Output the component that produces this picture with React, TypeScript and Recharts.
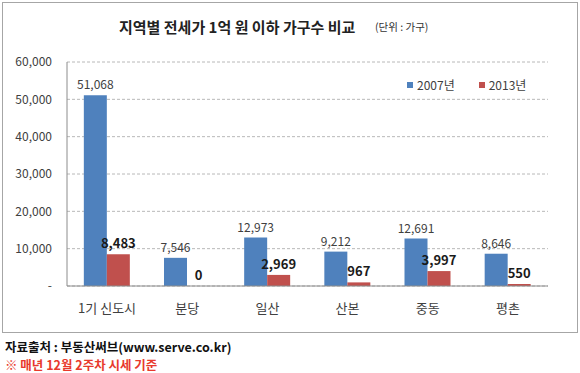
import { BarChart, Bar, XAxis, YAxis, CartesianGrid, LabelList } from 'recharts'

// 지역별 전세가 1억 원 이하 가구수 비교
const categories = ['1기 신도시', '분당', '일산', '산본', '중동', '평촌']
const values2007 = [51068, 7546, 12973, 9212, 12691, 8646]
const values2013 = [8483, 0, 2969, 967, 3997, 550]
const yTicks = [0, 10000, 20000, 30000, 40000, 50000, 60000]

const BLUE = '#4F81BD'
const RED = '#C0504D'
const FONT = '"Noto Sans CJK KR", "Noto Sans", sans-serif'

const data = categories.map((name, i) => ({
  name,
  y2007: values2007[i],
  y2013: values2013[i],
}))

const fmt = (v: any) => Number(v).toLocaleString('en-US')

export default function App() {
  return (
    <div style={{ position: 'absolute', left: 0, top: 0, width: 580, height: 373, background: '#fff', fontFamily: FONT }}>
      <div style={{
        position: 'absolute', left: 2, top: 2, width: 574, height: 329,
        border: '1px solid #a6a6a6',
      }} />
      <div style={{
        position: 'absolute', left: 119, top: 16, fontSize: 15, fontWeight: 700,
        color: '#222', whiteSpace: 'nowrap', lineHeight: '22px',
      }}>
        지역별 전세가 1억 원 이하 가구수 비교
      </div>
      <div style={{
        position: 'absolute', left: 375, top: 20, fontSize: 10.5, color: '#333',
        whiteSpace: 'nowrap', lineHeight: '14px',
      }}>
        (단위 : 가구)
      </div>

      <div style={{ position: 'absolute', left: 0, top: 0 }}>
        <BarChart width={580} height={373} data={data}
          margin={{ top: 62, right: 32, bottom: 57, left: 0 }}
          barGap={0} barCategoryGap="21%">
          <CartesianGrid vertical={false} stroke="#b8b8b8" strokeDasharray="3 2" />
          <XAxis dataKey="name" height={30} axisLine={{ stroke: '#8c8c8c' }} tickLine={false}
            tickSize={6} tickMargin={12}
            tick={{ fontSize: 13, fill: '#404040', fontFamily: FONT }} />
          <YAxis width={67} domain={[0, 60000]} ticks={yTicks} interval={0}
            axisLine={{ stroke: '#8c8c8c' }} tickLine={false} tickSize={6} tickMargin={9}
            tickFormatter={(v: number) => (v === 0 ? '-' : fmt(v))}
            tick={{ fontSize: 12, fill: '#404040', fontFamily: FONT }} />
          <Bar dataKey="y2007" fill={BLUE} isAnimationActive={false}>
            <LabelList dataKey="y2007" position="top" offset={6} formatter={fmt}
              style={{ fontSize: 12, fill: '#404040', fontFamily: FONT }} />
          </Bar>
          <Bar dataKey="y2013" fill={RED} isAnimationActive={false}
            minPointSize={(v: any) => (v === 0 ? 0.01 : 0)}>
            <LabelList dataKey="y2013" position="top" offset={6} formatter={fmt}
              style={{ fontSize: 13, fill: '#1a1a1a', fontWeight: 700, fontFamily: FONT }} />
          </Bar>
        </BarChart>
      </div>

      {/* legend */}
      <div style={{ position: 'absolute', left: 407, top: 76, display: 'flex', alignItems: 'center', fontSize: 12, color: '#404040', whiteSpace: 'nowrap' }}>
        <span style={{ width: 6, height: 6, background: BLUE, display: 'inline-block', marginRight: 4 }} />
        <span>2007년</span>
        <span style={{ width: 6, height: 6, background: RED, display: 'inline-block', marginLeft: 24, marginRight: 4 }} />
        <span>2013년</span>
      </div>

      <div style={{ position: 'absolute', left: 5, top: 338, fontSize: 12.5, fontWeight: 700, color: '#111', whiteSpace: 'nowrap', lineHeight: '18px' }}>
        자료출처 : 부동산써브(www.serve.co.kr)
      </div>
      <div style={{ position: 'absolute', left: 5, top: 356, fontSize: 12.5, fontWeight: 700, color: '#e8392c', whiteSpace: 'nowrap', lineHeight: '18px' }}>
        ※ 매년 12월 2주차 시세 기준
      </div>
    </div>
  )
}
